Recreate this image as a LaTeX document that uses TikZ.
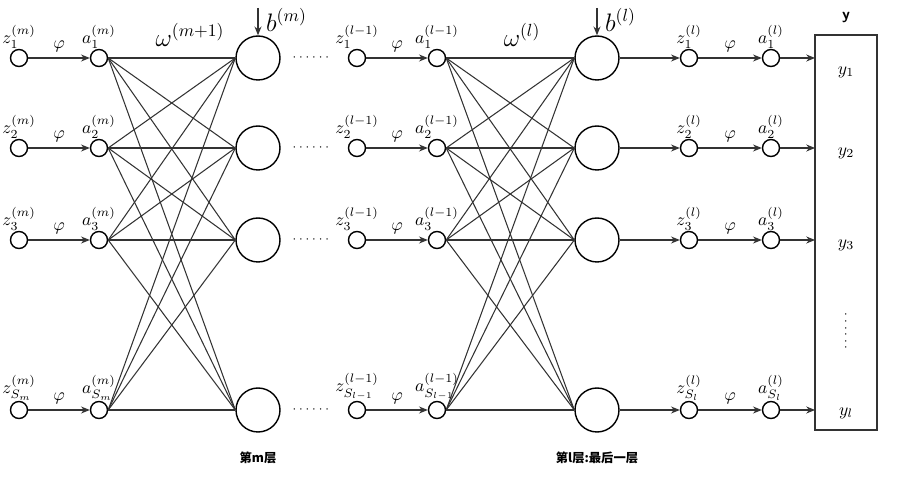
\documentclass[tikz,border=0pt]{standalone}
\usepackage{fontspec}
\newfontfamily\cjk{Noto Sans CJK SC}
\usepackage{amsmath}
\usetikzlibrary{arrows.meta,positioning}
\tikzset{
  neuron/.style={circle,draw,thick,minimum size=0.34cm,inner sep=0pt},
  unit/.style={circle,draw,thick,minimum size=0.88cm,inner sep=0pt},
  conn/.style={draw=black!80,line width=0.6pt},
  flow/.style={conn,-{Stealth[length=5pt,width=4pt]}},
  lab/.style={inner sep=0pt,font=\normalsize}
}
\begin{document}
\begin{tikzpicture}[x=0.02cm,y=-0.02cm]
\useasboundingbox (0,0) rectangle (913,489);
% rows
\foreach \r/\y in {1/58,2/148,3/240,4/410}{
  \node[neuron] (z\r) at (19,\y) {};
  \node[neuron] (a\r) at (99,\y) {};
  \node[unit] (m\r) at (258,\y) {};
  \node[neuron] (zl\r) at (357,\y) {};
  \node[neuron] (al\r) at (437,\y) {};
  \node[unit] (l\r) at (597,\y) {};
  \node[neuron] (zo\r) at (689,\y) {};
  \node[neuron] (ao\r) at (771,\y) {};
  \draw[flow] (z\r) -- node[above=3pt,lab] {$\varphi$} (a\r);
  \draw[flow] (zl\r) -- node[above=3pt,lab] {$\varphi$} (al\r);
  \draw[flow] (l\r) -- (zo\r);
  \draw[flow] (zo\r) -- node[above=3pt,lab] {$\varphi$} (ao\r);
  \node[font=\scriptsize] (d\r) at (312,\y) {$\cdots\cdots$};
}
% full connections
\foreach \i in {1,...,4}{
  \foreach \j in {1,...,4}{
    \draw[conn] (a\i.east) -- (m\j.west);
    \draw[conn] (al\i.east) -- (l\j.west);
  }
}
% labels
\foreach \r in {1,2,3}{
  \node[lab,above=0pt of z\r.north] {$z_{\r}^{(m)}$};
  \node[lab,above=0pt of a\r.north] {$a_{\r}^{(m)}$};
  \node[lab,above=0pt of zl\r.north] {$z_{\r}^{(l-1)}$};
  \node[lab,above=0pt of al\r.north] {$a_{\r}^{(l-1)}$};
  \node[lab,above=0pt of zo\r.north] {$z_{\r}^{(l)}$};
  \node[lab,above=0pt of ao\r.north] {$a_{\r}^{(l)}$};
}
\node[lab,above=0pt of z4.north] {$z_{S_m}^{(m)}$};
\node[lab,above=0pt of a4.north] {$a_{S_m}^{(m)}$};
\node[lab,above=0pt of zl4.north] {$z_{S_{l-1}}^{(l-1)}$};
\node[lab,above=0pt of al4.north] {$a_{S_{l-1}}^{(l-1)}$};
\node[lab,above=0pt of zo4.north] {$z_{S_l}^{(l)}$};
\node[lab,above=0pt of ao4.north] {$a_{S_l}^{(l)}$};
\node[font=\Large] (w1) at (190,35) {$\omega^{(m+1)}$};
\node[font=\Large] (w2) at (522,35) {$\omega^{(l)}$};
% bias
\coordinate (bm) at (258,8);
\coordinate (bl) at (597,8);
\draw[flow] (bm) -- (m1.north);
\draw[flow] (bl) -- (l1.north);
\node[font=\Large,anchor=west] at (260,20) {$b^{(m)}$};
\node[font=\Large,anchor=west] at (599,20) {$b^{(l)}$};
% output box
\draw[thick,black!80] (815,35) rectangle (877,430);
\coordinate (out) at (815,0);
\foreach \r/\y/\t in {1/72,2/153,3/245,4/413}{
  \draw[flow] (ao\r) -- (out |- ao\r);
}
\foreach \y/\t in {72/y_1,153/y_2,245/y_3,413/y_l}
  \node[lab] at (846,\y) {$\t$};
\node[font=\sffamily\bfseries\small] (yv) at (846,18) {y};
\node[font=\scriptsize,rotate=90] (vd) at (846,330) {$\cdots\cdots$};
% layer names
\node[font=\cjk\bfseries\scriptsize] (n1) at (258,458) {第m层};
\node[font=\cjk\bfseries\scriptsize] (n2) at (597,458) {第l层:最后一层};
\end{tikzpicture}
\end{document}
